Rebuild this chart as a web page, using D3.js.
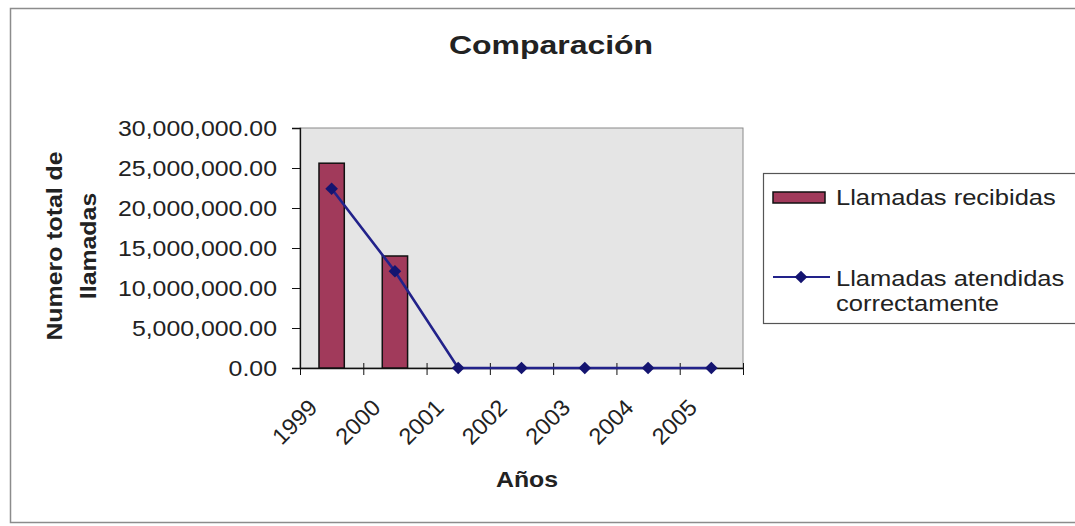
<!DOCTYPE html>
<html>
<head>
<meta charset="utf-8">
<script src="https://cdn.jsdelivr.net/npm/d3@7"></script>
<style>
  body { margin: 0; background: #fff; }
  text { font-family: "Liberation Sans", Arial, sans-serif; fill: #222; }
</style>
</head>
<body>
<svg width="1075" height="526"></svg>
<script>
// data
var years = ['1999', '2000', '2001', '2002', '2003', '2004', '2005'];
var recibidas = [25600000, 14000000, 0, 0, 0, 0, 0];
var atendidas = [22400000, 12100000, 0, 0, 0, 0, 0];
var yTicks = [0, 5000000, 10000000, 15000000, 20000000, 25000000, 30000000];
var seriesNames = ['Llamadas recibidas', 'Llamadas atendidas', 'correctamente'];

var S = 1.13; // scanned picture is a bit wider than normal type
var plotLeft = 300, plotRight = 743, plotTop = 128, plotBottom = 368;
var barColor = '#a13a5b';
var lineColor = '#22228a';
var markColor = '#141470';

var svg = d3.select('svg');

function label(g, txt, x, y, size, opts) {
    opts = opts || {};
    return g.append('text')
        .text(txt)
        .attr('transform', `translate(${x},${y}) rotate(${opts.rot || 0}) scale(${opts.s || S},1)`)
        .attr('font-size', size)
        .attr('font-weight', opts.bold ? 'bold' : null)
        .attr('text-anchor', opts.anchor || 'start');
}

// outer border
svg.append('rect')
    .attr('x', 10.5).attr('y', 8.5)
    .attr('width', 1080).attr('height', 514)
    .attr('fill', 'none').attr('stroke', '#8c8c8c').attr('stroke-width', 1.5);

var xBand = d3.scaleBand().domain(years).range([plotLeft, plotRight]);
var xEdge = d3.scaleLinear().domain([0, years.length]).range([plotLeft, plotRight]);
var y = d3.scaleLinear().domain([0, 30000000]).range([plotBottom, plotTop]);

// plot area
svg.append('rect')
    .attr('x', plotLeft).attr('y', plotTop)
    .attr('width', plotRight - plotLeft).attr('height', plotBottom - plotTop)
    .attr('fill', '#e5e5e5').attr('stroke', '#8a8a8a').attr('stroke-width', 1);

// y axis
var yAxis = svg.append('g')
    .attr('transform', `translate(${plotLeft},0)`)
    .call(d3.axisLeft(y).tickValues(yTicks).tickSize(8).tickPadding(0).tickFormat(d3.format(',.2f')));
yAxis.select('.domain').attr('stroke', '#111').attr('stroke-width', 1.3);
yAxis.selectAll('.tick line').attr('stroke', '#111');
yAxis.selectAll('.tick text')
    .attr('x', null).attr('dy', '0.36em')
    .attr('transform', `translate(-23,0) scale(${S},1)`)
    .attr('font-size', 22)
    .attr('font-family', '"Liberation Sans", Arial, sans-serif')
    .attr('fill', '#222');

// x axis, ticks between categories
var xAxis = svg.append('g')
    .attr('transform', `translate(0,${plotBottom})`)
    .call(d3.axisBottom(xEdge).tickValues(d3.range(years.length + 1)).tickSizeInner(7).tickSizeOuter(0).tickFormat(''));
xAxis.select('.domain').attr('stroke', '#111').attr('stroke-width', 1.3);
xAxis.selectAll('.tick line').attr('y1', -5).attr('stroke', '#111');

var xl = svg.append('g');
years.forEach(function (yr) {
    label(xl, yr, xBand(yr) + xBand.bandwidth() / 2 - 13, plotBottom + 41, 23, { rot: -45, anchor: 'end', s: 1.02 });
});

// bars
var bw = xBand.bandwidth() / 2.5;
svg.append('g').selectAll('rect')
    .data(recibidas.map((v, i) => ({ yr: years[i], v: v })).filter(d => d.v > 0))
    .enter().append('rect')
    .attr('x', d => xBand(d.yr) + (xBand.bandwidth() - bw) / 2)
    .attr('y', d => y(d.v))
    .attr('width', bw)
    .attr('height', d => y(0) - y(d.v))
    .attr('fill', barColor)
    .attr('stroke', '#111').attr('stroke-width', 1.5);

// line
var pts = atendidas.map((v, i) => ({ yr: years[i], v: v }));
var cx = d => xBand(d.yr) + xBand.bandwidth() / 2;
svg.append('path')
    .datum(pts)
    .attr('d', d3.line().x(cx).y(d => y(d.v)))
    .attr('fill', 'none').attr('stroke', lineColor).attr('stroke-width', 2.6);

var diamond = d3.symbol().type(d3.symbolSquare).size(80);
svg.append('g').selectAll('path')
    .data(pts)
    .enter().append('path')
    .attr('d', diamond)
    .attr('transform', d => `translate(${cx(d)},${y(d.v)}) rotate(45)`)
    .attr('fill', markColor);

// titles
label(svg, 'Comparación', 551, 54, 26, { bold: true, anchor: 'middle', s: 1.23 });
label(svg, 'Años', 527, 487, 22, { bold: true, anchor: 'middle' });
label(svg, 'Numero total de', 62, 246, 22, { bold: true, anchor: 'middle', rot: -90 });
label(svg, 'llamadas', 96, 246, 22, { bold: true, anchor: 'middle', rot: -90 });

// legend
var lg = svg.append('g');
lg.append('rect')
    .attr('x', 763.5).attr('y', 173.5)
    .attr('width', 320).attr('height', 150)
    .attr('fill', '#fff').attr('stroke', '#555').attr('stroke-width', 1.2);
lg.append('rect')
    .attr('x', 773).attr('y', 192).attr('width', 52).attr('height', 11)
    .attr('fill', barColor).attr('stroke', '#111').attr('stroke-width', 1.5);
label(lg, seriesNames[0], 836, 205, 22, { s: 1.16 });
lg.append('line')
    .attr('x1', 773).attr('x2', 830).attr('y1', 277).attr('y2', 277)
    .attr('stroke', lineColor).attr('stroke-width', 2);
lg.append('path')
    .attr('d', diamond)
    .attr('transform', 'translate(801,277) rotate(45)')
    .attr('fill', markColor);
label(lg, seriesNames[1], 836, 286, 22, { s: 1.16 });
label(lg, seriesNames[2], 836, 311, 22, { s: 1.16 });
</script>
</body>
</html>
